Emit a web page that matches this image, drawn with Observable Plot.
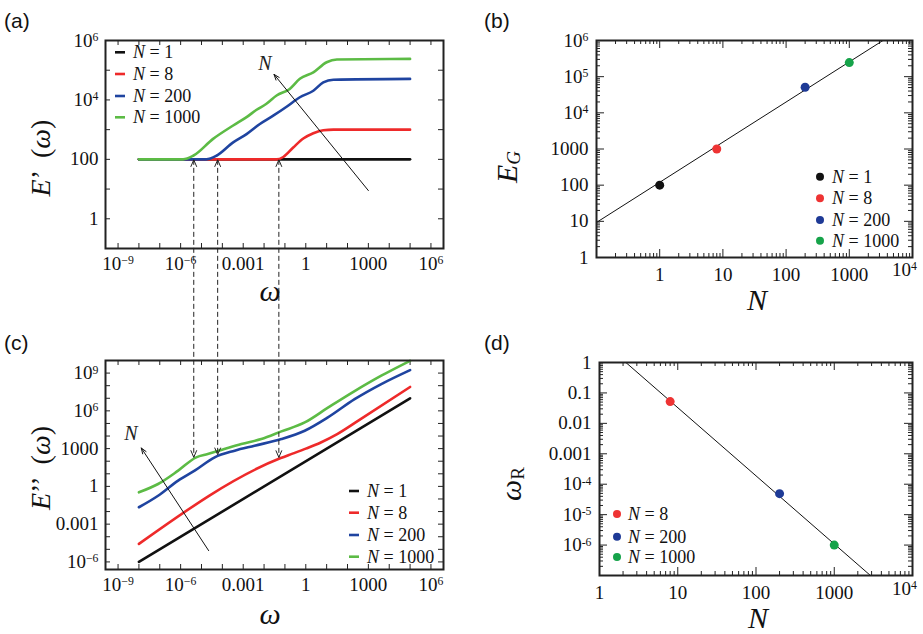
<!DOCTYPE html>
<html>
<head>
<meta charset="utf-8">
<script src="https://cdn.jsdelivr.net/npm/d3@7"></script>
<script src="https://cdn.jsdelivr.net/npm/@observablehq/plot@0.6"></script>
<style>
  html, body { margin: 0; padding: 0; background: #fff; }
  #fig { position: relative; width: 923px; height: 634px; overflow: hidden; font-family: "Liberation Serif", "Times New Roman", serif; }
  #fig > svg { position: absolute; }
</style>
</head>
<body>
<div id="fig"></div>
<script>
// ---------- data ----------
const seriesN = [1, 8, 200, 1000];
const lineColors = ["#111111", "#ee2a2a", "#1f44a0", "#5cbb45"];
const dotColors = ["#111111", "#ee3333", "#1e3a96", "#16a34a"];

// (a) storage modulus E'(ω)
const omegaA1 = [1e-8, 1e5];
const storageA1 = [100, 100];
const omegaA8 = [1e-8, 0.04, 0.083, 0.25, 0.76, 2.3, 6.9, 21, 1e5];
const storageA8 = [100, 100, 120, 251, 501, 759, 955, 1000, 1000];
const omegaA200 = [1e-8, 1.7e-5, 5.2e-5, 3.3e-4, 1.45e-3, 6.3e-3, 0.0275, 0.12, 0.52, 2.3, 6.9, 21, 1e5];
const storageA200 = [100, 100, 132, 372, 708, 1550, 2950, 5890, 12300, 20400, 38900, 47900, 51000];
const omegaA1000 = [1e-8, 1.3e-6, 4e-6, 3.6e-5, 3.3e-4, 1.45e-3, 4.4e-3, 0.013, 0.04, 0.17, 0.52, 2.3, 10, 31, 1e5];
const storageA1000 = [100, 100, 132, 490, 1380, 2630, 4680, 7400, 14100, 23400, 51300, 85100, 186000, 229000, 240000];

// (c) loss modulus E''(ω)
const omegaC1 = [1e-8, 1e5];
const lossC1 = [1e-6, 1e7];
const omegaC8 = [1e-8, 0.063, 0.25, 1, 5, 32, 316, 1e5];
const lossC8 = [2.7e-5, 178, 417, 1000, 2950, 14100, 158000, 7.9e7];
const omegaC200 = [1e-8, 8.3e-8, 7.6e-7, 4.7e-6, 4.3e-5, 3.9e-4, 3.5e-3, 0.068, 0.89, 11.5, 219, 4170, 1e5];
const lossC200 = [0.022, 0.18, 2.9, 17.8, 204, 692, 1700, 5750, 26300, 302000, 8.5e6, 1.35e8, 1.74e9];
const omegaC1000 = [1e-8, 8.3e-8, 7.6e-7, 5.6e-6, 2.0e-5, 8.9e-5, 8.1e-4, 7.4e-3, 0.068, 0.89, 11.5, 219, 4170, 1e5];
const lossC1000 = [0.34, 1.55, 17.8, 204, 372, 776, 2340, 5750, 23400, 120000, 1.78e6, 3.7e7, 6.2e8, 9.5e9];

// relaxation markers linking (a) and (c)
const markerOmega = [4.5e-6, 6.3e-5, 0.054];
const markerN = [1000, 200, 8];

// (b) plateau modulus vs N, with power-law fit
const nB = [1, 8, 200, 1000];
const eG = [100, 1000, 51000, 245000];
const fitB = { prefactor: 120, exponent: 1.11 };

// (d) relaxation frequency vs N, with power-law fit
const nD = [8, 200, 1000];
const omegaR = [0.052, 4.9e-5, 1.0e-6];
const fitD = { prefactor: 5.7, exponent: -2.24 };

// "increasing N" arrows and their labels
const arrowA = [{ x1: 1000, y1: 8.9, x2: 0.03, y2: 72400 }];
const arrowLabelA = [{ x: 0.011, y: 162000 }];
const arrowC = [{ x1: 2.2e-5, y1: 7.9e-6, x2: 1.3e-8, y2: 1120 }];
const arrowLabelC = [{ x: 4.1e-9, y: 14500 }];

// axis ticks and their labels
const omegaTicks = [1e-9, 1e-6, 1e-3, 1, 1e3, 1e6];
const omegaTickLabels = ["10^−9", "10^−6", "0.001", "1", "1000", "10^6"];
const storageTicks = [1, 100, 1e4, 1e6];
const storageTickLabels = ["1", "100", "10^4", "10^6"];
const lossTicks = [1e-6, 1e-3, 1, 1e3, 1e6, 1e9];
const lossTickLabels = ["10^−6", "0.001", "1", "1000", "10^6", "10^9"];
const nTicksB = [1, 10, 100, 1000];
const nTickLabelsB = ["1", "10", "100", "1000"];
const eGTicks = [1, 10, 100, 1000, 1e4, 1e5, 1e6];
const eGTickLabels = ["1", "10", "100", "1000", "10^4", "10^5", "10^6"];
const nTicksD = [1, 10, 100, 1000];
const nTickLabelsD = ["1", "10", "100", "1000"];
const nEndTick = [1e4];
const nEndTickLabel = ["10^4"];
const omegaRTicks = [1, 0.1, 0.01, 0.001, 1e-4, 1e-5, 1e-6];
const omegaRTickLabels = ["1", "0.1", "0.01", "0.001", "10^-4", "10^-5", "10^-6"];

// ---------- helpers ----------
const ink = "#222";
const serif = "'Liberation Serif', 'Times New Roman', serif";
const baseStyle = { fontFamily: serif, fontSize: "19px", background: "transparent", color: "#111", overflow: "visible" };

const toRows = (ws, vs, n) => ws.map((w, i) => ({ w, v: vs[i], n }));
const fmt = (vals, labels) => { const m = new Map(vals.map((v, i) => [v, labels[i]])); return d => m.get(d) ?? ""; };
const decades = (lo, hi) => d3.range(lo, hi + 1).map(k => +("1e" + k));
const logTicks = (lo, hi) => d3.scaleLog().domain([lo, hi]).ticks().filter(t => t >= lo * 0.999 && t <= hi * 1.001);
const isDecade = t => Math.abs(Math.log10(t) - Math.round(Math.log10(t))) < 1e-9;

// short ticks pointing inward on all four sides of the frame
function inwardTicks(xv, yv, len, fw, fh) {
  return [
    Plot.tickX(xv, { x: d => d, insetTop: fh - len, stroke: ink, strokeWidth: 1 }),
    Plot.tickX(xv, { x: d => d, insetBottom: fh - len, stroke: ink, strokeWidth: 1 }),
    Plot.tickY(yv, { y: d => d, insetRight: fw - len, stroke: ink, strokeWidth: 1 }),
    Plot.tickY(yv, { y: d => d, insetLeft: fw - len, stroke: ink, strokeWidth: 1 })
  ];
}

function powerLine(fit, lo, hi) {
  return [lo, hi].map(n => ({ n, v: fit.prefactor * Math.pow(n, fit.exponent) }));
}

// serif tick labels; "10^k" becomes a base with a raised exponent
function styleLabels(svg) {
  d3.select(svg).selectAll("text").style("font-family", serif).each(function () {
    const m = this.textContent.match(/^10\^(.+)$/);
    if (!m) return;
    const t = d3.select(this);
    t.text("");
    t.append("tspan").text("10");
    t.append("tspan").attr("dy", "-0.48em").attr("font-size", "0.62em").text(m[1]);
  });
}

// ---------- layout ----------
const L = {
  a: { left: 0, top: 0, width: 460, height: 315, mt: 40, mr: 17, mb: 67, ml: 105 },
  b: { left: 460, top: 0, width: 463, height: 315, mt: 40, mr: 11, mb: 58, ml: 136 },
  c: { left: 0, top: 315, width: 460, height: 319, mt: 45, mr: 17, mb: 65, ml: 105 },
  d: { left: 460, top: 315, width: 463, height: 319, mt: 47, mr: 11, mb: 59, ml: 139 }
};
const fw = p => p.width - p.ml - p.mr;
const fh = p => p.height - p.mt - p.mb;
const dims = p => ({ width: p.width, height: p.height, marginTop: p.mt, marginRight: p.mr, marginBottom: p.mb, marginLeft: p.ml });

const omegaDomain = [2.5e-10, 4e6];

// ---------- (a) ----------
const storageSeries = [
  toRows(omegaA1, storageA1, 1), toRows(omegaA8, storageA8, 8),
  toRows(omegaA200, storageA200, 200), toRows(omegaA1000, storageA1000, 1000)
];
const plotA = Plot.plot({
  ...dims(L.a),
  x: { type: "log", domain: omegaDomain },
  y: { type: "log", domain: [0.1, 1e6] },
  style: baseStyle,
  marks: [
    ...inwardTicks(decades(-9, 6), decades(-1, 6), 5, fw(L.a), fh(L.a)),
    Plot.axisX(omegaTicks, { tickSize: 0, tickPadding: 8, tickFormat: fmt(omegaTicks, omegaTickLabels), label: null }),
    Plot.axisY(storageTicks, { tickSize: 0, tickPadding: 7, tickFormat: fmt(storageTicks, storageTickLabels), label: null }),
    ...storageSeries.map((rows, i) => Plot.line(rows, { x: "w", y: "v", stroke: lineColors[i], strokeWidth: 2.6, curve: "monotone-x" })),
    Plot.arrow(arrowA, { x1: "x1", y1: "y1", x2: "x2", y2: "y2", stroke: "#111", strokeWidth: 1, headLength: 9, headAngle: 40 }),
    Plot.text(arrowLabelA, { x: "x", y: "y", text: () => "N", fontStyle: "italic", fontSize: 20, fill: "#222" }),
    Plot.frame({ stroke: ink, strokeWidth: 2 })
  ]
});

// ---------- (c) ----------
const lossSeries = [
  toRows(omegaC1, lossC1, 1), toRows(omegaC8, lossC8, 8),
  toRows(omegaC200, lossC200, 200), toRows(omegaC1000, lossC1000, 1000)
];
const plotC = Plot.plot({
  ...dims(L.c),
  x: { type: "log", domain: omegaDomain },
  y: { type: "log", domain: [2.5e-7, 1e10] },
  style: baseStyle,
  marks: [
    ...inwardTicks(decades(-9, 6), decades(-6, 9), 5, fw(L.c), fh(L.c)),
    Plot.axisX(omegaTicks, { tickSize: 0, tickPadding: 8, tickFormat: fmt(omegaTicks, omegaTickLabels), label: null }),
    Plot.axisY(lossTicks, { tickSize: 0, tickPadding: 7, tickFormat: fmt(lossTicks, lossTickLabels), label: null }),
    ...lossSeries.map((rows, i) => Plot.line(rows, { x: "w", y: "v", stroke: lineColors[i], strokeWidth: 2.6, curve: "monotone-x" })),
    Plot.arrow(arrowC, { x1: "x1", y1: "y1", x2: "x2", y2: "y2", stroke: "#111", strokeWidth: 1, headLength: 9, headAngle: 40 }),
    Plot.text(arrowLabelC, { x: "x", y: "y", text: () => "N", fontStyle: "italic", fontSize: 20, fill: "#222" }),
    Plot.frame({ stroke: ink, strokeWidth: 2 })
  ]
});

// ---------- (b) ----------
const ticksBX = logTicks(0.1, 1e4), ticksBY = logTicks(1, 1e6);
const plotB = Plot.plot({
  ...dims(L.b),
  x: { type: "log", domain: [0.1, 1e4] },
  y: { type: "log", domain: [1, 1e6] },
  style: baseStyle,
  marks: [
    ...inwardTicks(ticksBX.filter(t => !isDecade(t)), ticksBY.filter(t => !isDecade(t)), 4, fw(L.b), fh(L.b)),
    ...inwardTicks(ticksBX.filter(isDecade), ticksBY.filter(isDecade), 8, fw(L.b), fh(L.b)),
    Plot.axisX(nTicksB, { tickSize: 0, tickPadding: 10, tickFormat: fmt(nTicksB, nTickLabelsB), label: null }),
    Plot.axisX(nEndTick, { tickSize: 0, tickPadding: 10, dx: -8, dy: -5, tickFormat: fmt(nEndTick, nEndTickLabel), label: null }),
    Plot.axisY(eGTicks, { tickSize: 0, tickPadding: 8, tickFormat: fmt(eGTicks, eGTickLabels), label: null }),
    Plot.line(powerLine(fitB, 0.1, 1e4), { x: "n", y: "v", stroke: "#111", strokeWidth: 1, clip: true }),
    Plot.dot(nB.map((n, i) => ({ n, v: eG[i], c: dotColors[i] })), { x: "n", y: "v", fill: "c", r: 4.5 }),
    Plot.frame({ stroke: ink, strokeWidth: 2 })
  ]
});

// ---------- (d) ----------
const ticksDX = logTicks(1, 1e4), ticksDY = logTicks(1e-7, 1);
const plotD = Plot.plot({
  ...dims(L.d),
  x: { type: "log", domain: [1, 1e4] },
  y: { type: "log", domain: [1e-7, 1] },
  style: baseStyle,
  marks: [
    ...inwardTicks(ticksDX.filter(t => !isDecade(t)), ticksDY.filter(t => !isDecade(t)), 4, fw(L.d), fh(L.d)),
    ...inwardTicks(ticksDX.filter(isDecade), ticksDY.filter(isDecade), 8, fw(L.d), fh(L.d)),
    Plot.axisX(nTicksD, { tickSize: 0, tickPadding: 10, tickFormat: fmt(nTicksD, nTickLabelsD), label: null }),
    Plot.axisX(nEndTick, { tickSize: 0, tickPadding: 10, dx: -8, dy: -4, tickFormat: fmt(nEndTick, nEndTickLabel), label: null }),
    Plot.axisY(omegaRTicks, { tickSize: 0, tickPadding: 8, tickFormat: fmt(omegaRTicks, omegaRTickLabels), label: null }),
    Plot.line(powerLine(fitD, 1, 1e4), { x: "n", y: "v", stroke: "#111", strokeWidth: 1, clip: true }),
    Plot.dot(nD.map((n, i) => ({ n, v: omegaR[i], c: dotColors[i + 1] })), { x: "n", y: "v", fill: "c", r: 4.5 }),
    Plot.frame({ stroke: ink, strokeWidth: 2 })
  ]
});

const fig = document.getElementById("fig");
for (const [plot, p] of [[plotA, L.a], [plotB, L.b], [plotC, L.c], [plotD, L.d]]) {
  plot.style.left = p.left + "px";
  plot.style.top = p.top + "px";
  fig.appendChild(plot);
  styleLabels(plot);
}

// ---------- overlay: connectors, titles, legends ----------
const scaleOf = (plot, name) => { const s = plot.scale(name); return d3.scaleLog().domain(s.domain).range(s.range); };
const xA = scaleOf(plotA, "x"), yA = scaleOf(plotA, "y");
const yC = scaleOf(plotC, "y");

function logInterp(ws, vs, w) {
  const lw = Math.log10(w);
  for (let i = 1; i < ws.length; i++) {
    const a = Math.log10(ws[i - 1]), b = Math.log10(ws[i]);
    if (lw <= b) {
      const t = (lw - a) / (b - a);
      return Math.pow(10, Math.log10(vs[i - 1]) + t * (Math.log10(vs[i]) - Math.log10(vs[i - 1])));
    }
  }
  return vs[vs.length - 1];
}

const ov = d3.select(fig).append("svg")
  .attr("width", 923).attr("height", 634)
  .style("left", "0px").style("top", "0px")
  .attr("font-family", serif)
  .attr("fill", "#111");

// dashed double-headed connectors from E' plateau onset to E'' curves
const lossByN = { 1: [omegaC1, lossC1], 8: [omegaC8, lossC8], 200: [omegaC200, lossC200], 1000: [omegaC1000, lossC1000] };
markerOmega.forEach((w, i) => {
  const [ws, vs] = lossByN[markerN[i]];
  const x = L.a.left + xA(w);
  const y1 = L.a.top + yA(100) + 1;
  const y2 = L.c.top + yC(logInterp(ws, vs, w)) - 1;
  const g = ov.append("g").attr("stroke", "#222").attr("stroke-width", 1).attr("fill", "none");
  g.append("line").attr("x1", x).attr("x2", x).attr("y1", y1).attr("y2", y2).attr("stroke-dasharray", "5,3");
  g.append("path").attr("d", `M${x - 3},${y1 + 7}L${x},${y1}L${x + 3},${y1 + 7}`);
  g.append("path").attr("d", `M${x - 3},${y2 - 7}L${x},${y2}L${x + 3},${y2 - 7}`);
});

function rich(x, y, parts, { size, rotate = 0, anchor = "middle", family } = {}) {
  const t = ov.append("text")
    .attr("transform", `translate(${x},${y}) rotate(${rotate})`)
    .attr("text-anchor", anchor)
    .attr("dominant-baseline", "central")
    .attr("font-size", size)
    .style("white-space", "pre");
  if (family) t.attr("font-family", family);
  for (const p of parts) {
    const s = t.append("tspan").text(p.t);
    if (p.i) s.attr("font-style", "italic");
    if (p.sub) s.attr("font-size", p.sub).attr("dy", "0.35em");
  }
  return t;
}

// panel letters
const sans = "'Liberation Sans', Arial, sans-serif";
rich(4, 20, [{ t: "(a)" }], { size: 21, anchor: "start", family: sans });
rich(484, 20, [{ t: "(b)" }], { size: 21, anchor: "start", family: sans });
rich(4, 342, [{ t: "(c)" }], { size: 21, anchor: "start", family: sans });
rich(484, 342, [{ t: "(d)" }], { size: 21, anchor: "start", family: sans });

// axis titles
rich(40, 158, [{ t: "E", i: true }, { t: "’  (" }, { t: "ω", i: true }, { t: ")" }], { size: 28, rotate: -90 });
rich(40, 468, [{ t: "E", i: true }, { t: "’’  (" }, { t: "ω", i: true }, { t: ")" }], { size: 28, rotate: -90 });
rich(270, 290, [{ t: "ω", i: true }], { size: 30 });
rich(270, 613, [{ t: "ω", i: true }], { size: 30 });
rich(506, 167, [{ t: "E", i: true }, { t: "G", i: true, sub: 19 }], { size: 30, rotate: -90 });
rich(510, 484, [{ t: "ω", i: true }, { t: "R", sub: 19 }], { size: 30, rotate: -90 });
rich(757, 299, [{ t: "N", i: true }], { size: 30 });
rich(758, 617, [{ t: "N", i: true }], { size: 30 });

// legends
function legend(entries, { x, rows, kind, textX }) {
  entries.forEach((e, i) => {
    if (kind === "line") {
      ov.append("line").attr("x1", x).attr("x2", x + 10).attr("y1", rows[i]).attr("y2", rows[i])
        .attr("stroke", e.color).attr("stroke-width", 2.6);
    } else {
      ov.append("circle").attr("cx", x).attr("cy", rows[i]).attr("r", 4).attr("fill", e.color);
    }
    rich(textX, rows[i], [{ t: "N", i: true }, { t: " = " + e.n }], { size: 18, anchor: "start" });
  });
}
legend(seriesN.map((n, i) => ({ n, color: lineColors[i] })), { x: 115, textX: 133, rows: [52.3, 74, 96, 117.3], kind: "line" });
legend(seriesN.map((n, i) => ({ n, color: lineColors[i] })), { x: 349, textX: 367, rows: [491, 512.7, 535, 556.7], kind: "line" });
legend(nB.map((n, i) => ({ n, color: dotColors[i] })), { x: 820, textX: 832, rows: [176.7, 198.3, 220, 240.7], kind: "dot" });
legend(nD.map((n, i) => ({ n, color: dotColors[i + 1] })), { x: 617, textX: 628, rows: [514, 536.7, 557], kind: "dot" });
</script>
</body>
</html>
